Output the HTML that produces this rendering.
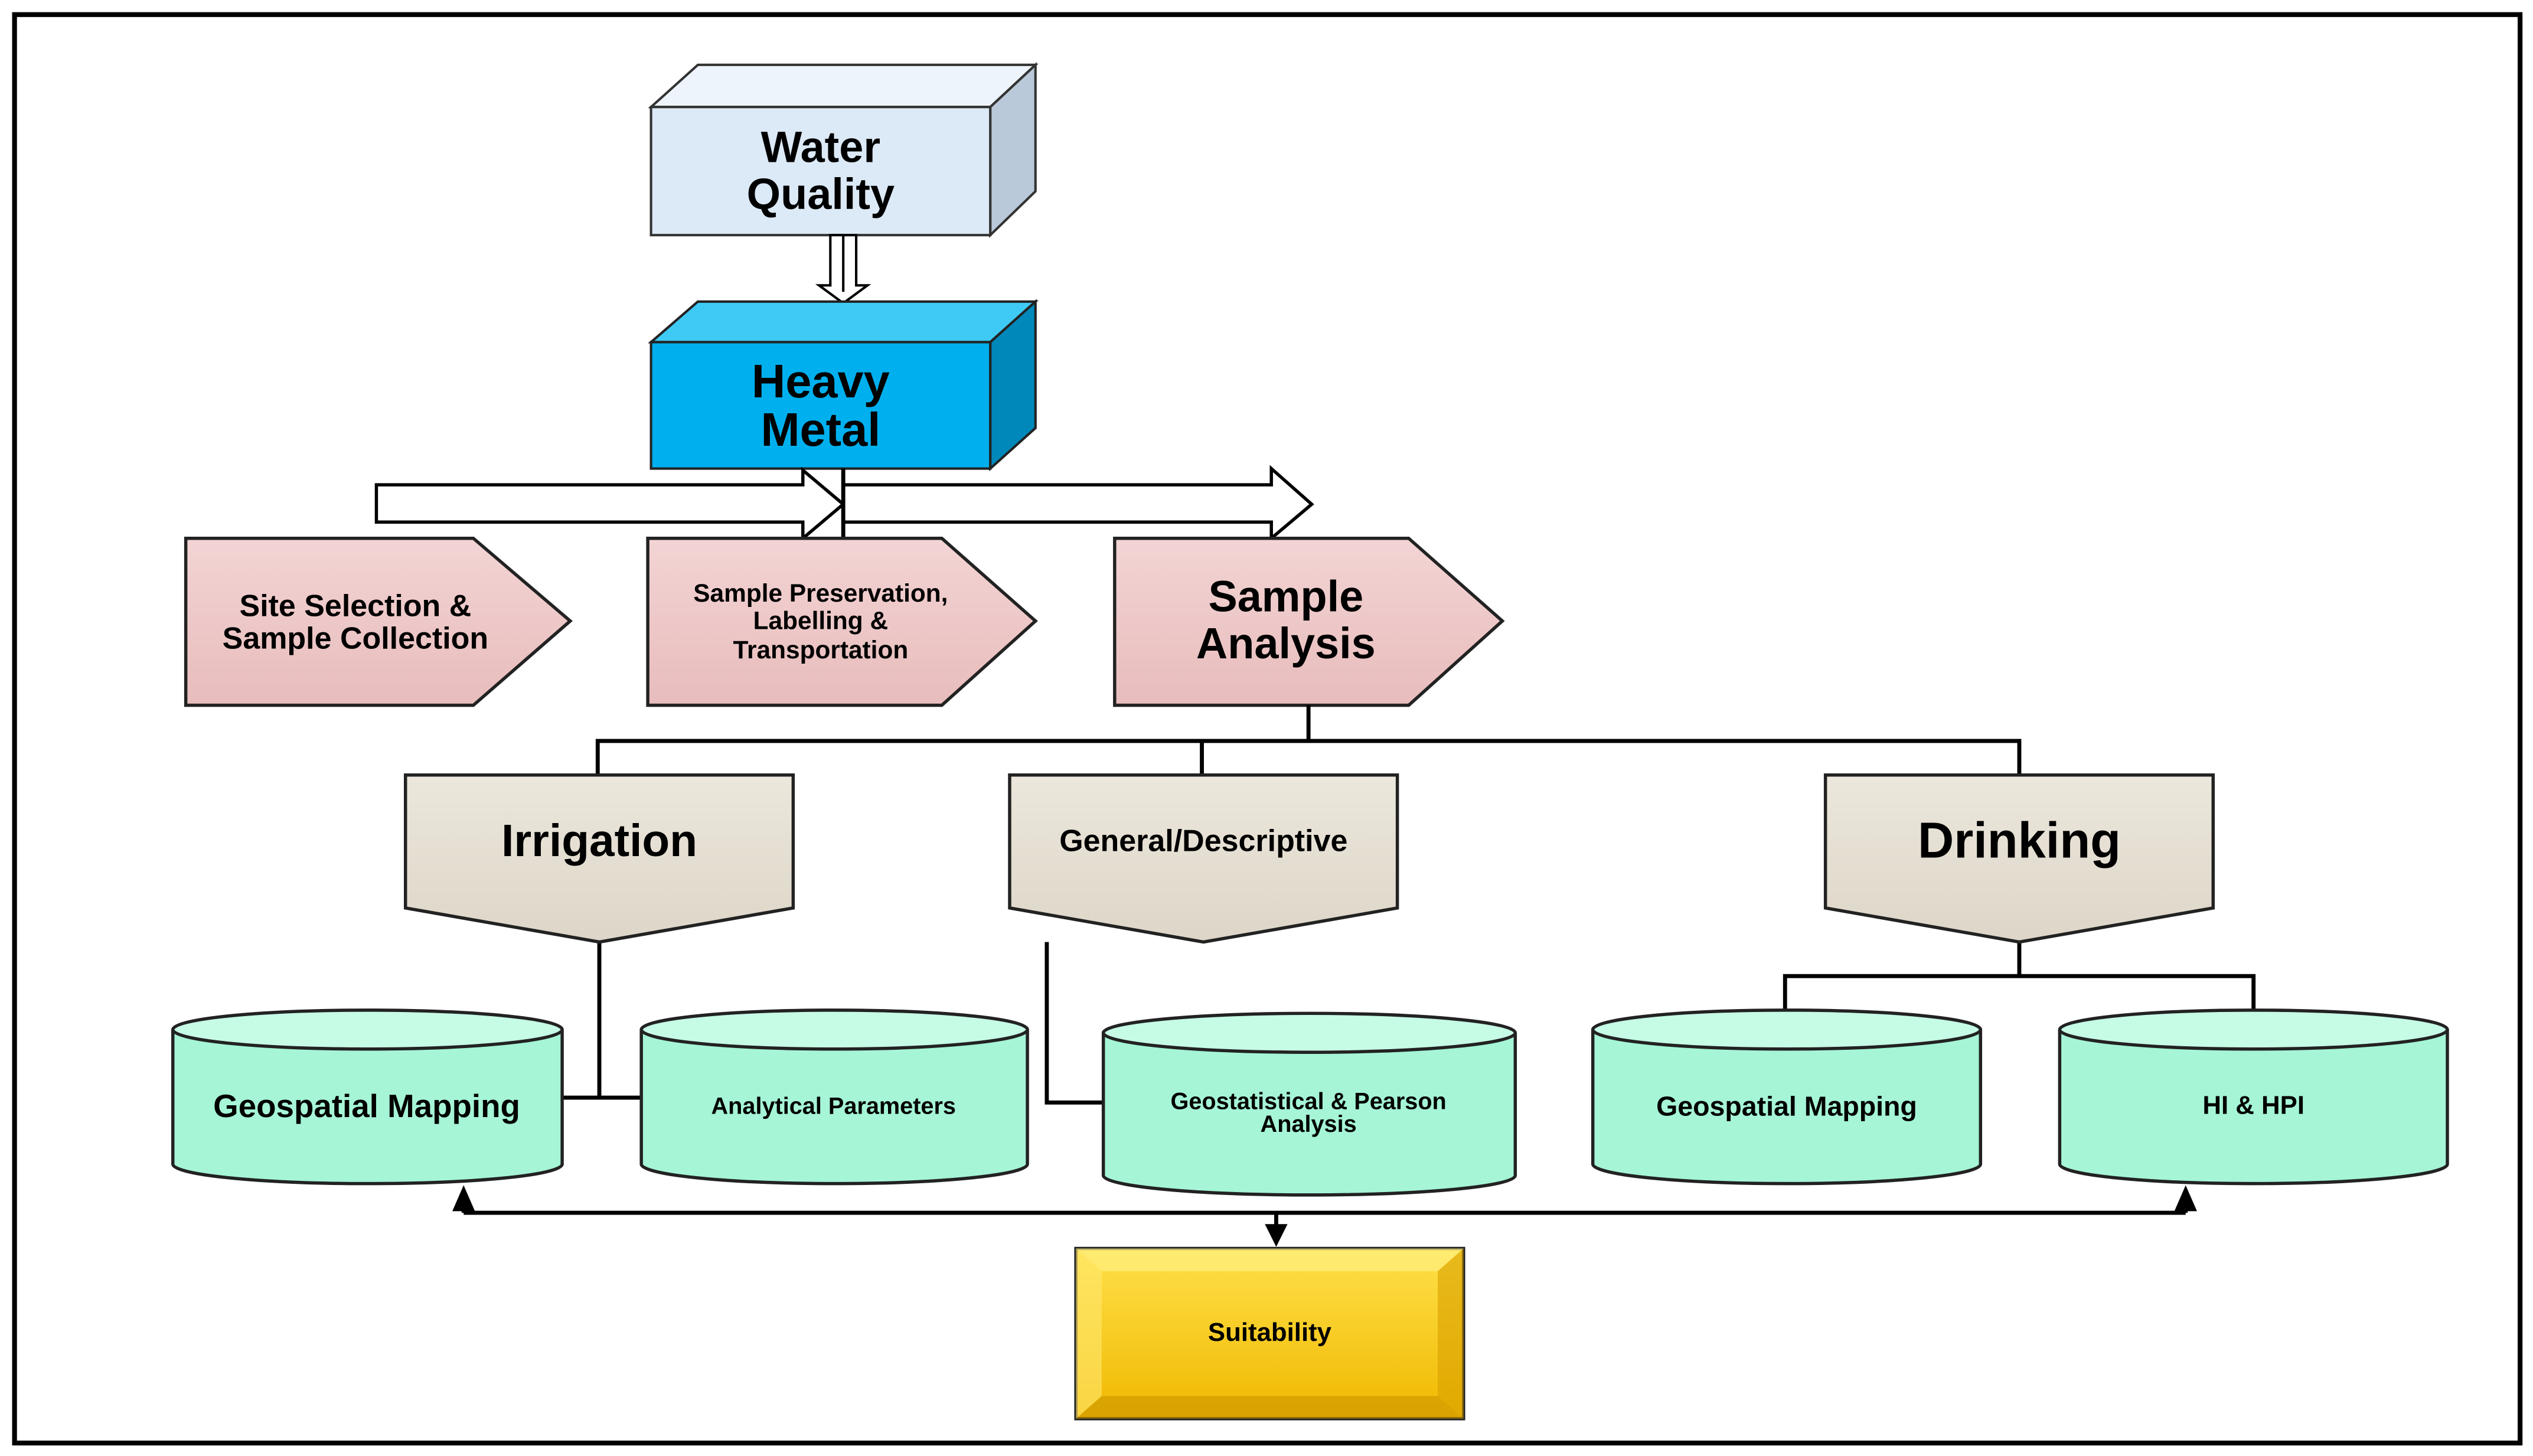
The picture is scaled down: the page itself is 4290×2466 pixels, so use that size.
<!DOCTYPE html>
<html><head><meta charset="utf-8"><style>
html,body{margin:0;padding:0;background:#fff}
svg{display:block}
text{font-family:"Liberation Sans",Arial,sans-serif;font-weight:bold;fill:#000;text-anchor:middle}
</style></head><body>
<svg width="4290" height="2466" viewBox="0 0 1568 898" preserveAspectRatio="none" xmlns="http://www.w3.org/2000/svg">
<defs>
<linearGradient id="pink" x1="0" y1="0" x2="0" y2="1"><stop offset="0" stop-color="#f3d4d4"/><stop offset="1" stop-color="#e8bcbc"/></linearGradient>
<linearGradient id="beige" x1="0" y1="0" x2="0" y2="1"><stop offset="0" stop-color="#ece7dc"/><stop offset="1" stop-color="#ddd6c8"/></linearGradient>
<linearGradient id="gold" x1="0" y1="0" x2="0" y2="1"><stop offset="0" stop-color="#ffe14a"/><stop offset="1" stop-color="#f0b800"/></linearGradient>
</defs>
<rect x="9" y="9" width="1551" height="881" fill="#fff" stroke="#000" stroke-width="3"/>

<!-- Water Quality -->
<polygon points="403,66 432,40 641,40 613,66" fill="#eef4fb" stroke="#333" stroke-width="1.5"/>
<polygon points="613,66 641,40 641,118 613,145" fill="#b9c9d9" stroke="#333" stroke-width="1.5"/>
<rect x="403" y="66" width="210" height="79" fill="#dce9f6" stroke="#333" stroke-width="1.5"/>
<text x="508" y="100" font-size="27">Water</text>
<text x="508" y="129" font-size="27">Quality</text>

<!-- double arrow -->
<polygon points="514,145 530,145 530,176 537,176 522,187 507,176 514,176" fill="#fff" stroke="#000" stroke-width="1.5"/>
<line x1="522" y1="145" x2="522" y2="180" stroke="#000" stroke-width="1.5"/>

<!-- Heavy Metal -->
<polygon points="403,211 432,186 641,186 613,211" fill="#3fcaf5" stroke="#222" stroke-width="1.5"/>
<polygon points="613,211 641,186 641,264 613,289" fill="#0088bb" stroke="#222" stroke-width="1.5"/>
<rect x="403" y="211" width="210" height="78" fill="#00b0ee" stroke="#222" stroke-width="1.5"/>
<text x="508" y="245" font-size="29">Heavy</text>
<text x="508" y="275" font-size="29">Metal</text>

<!-- hollow arrows -->
<polygon points="233,299 497,299 497,290 522,311 497,332 497,322 233,322" fill="#fff" stroke="#000" stroke-width="2"/>
<polygon points="522,299 787,299 787,289 812,311 787,332 787,322 522,322" fill="#fff" stroke="#000" stroke-width="2"/>
<line x1="522" y1="289" x2="522" y2="332" stroke="#000" stroke-width="2.5"/>

<!-- pink pentagons -->
<g stroke="#222" stroke-width="2">
<polygon points="115,332 293,332 353,383 293,435 115,435" fill="url(#pink)"/>
<polygon points="401,332 583,332 641,383 583,435 401,435" fill="url(#pink)"/>
<polygon points="690,332 872,332 930,383 872,435 690,435" fill="url(#pink)"/>
</g>
<text x="220" y="380" font-size="19">Site Selection &amp;</text>
<text x="220" y="400" font-size="19">Sample Collection</text>
<text x="508" y="371" font-size="15.5">Sample Preservation,</text>
<text x="508" y="388" font-size="15.5">Labelling &amp;</text>
<text x="508" y="406" font-size="15.5">Transportation</text>
<text x="796" y="377" font-size="27">Sample</text>
<text x="796" y="406" font-size="27">Analysis</text>

<!-- connectors -->
<g stroke="#000" stroke-width="2.5" fill="none">
<polyline points="810,435 810,457"/>
<polyline points="370,478 370,457 1250,457 1250,478"/>
<line x1="744" y1="457" x2="744" y2="478"/>
<polyline points="371,581 371,677"/>
<line x1="348" y1="677" x2="397" y2="677"/>
<polyline points="648,581 648,680 683,680"/>
<polyline points="1250,581 1250,602"/>
<polyline points="1105,625 1105,602 1395,602 1395,625"/>
<polyline points="287,748 1353,748"/>
<line x1="287" y1="748" x2="287" y2="740"/>
<line x1="1353" y1="748" x2="1353" y2="740"/>
<line x1="790" y1="748" x2="790" y2="758"/>
</g>
<polygon points="280,747 294,747 287,731" fill="#000"/>
<polygon points="1346,747 1360,747 1353,731" fill="#000"/>
<polygon points="783,755 797,755 790,769" fill="#000"/>

<!-- beige down pentagons -->
<g stroke="#222" stroke-width="2">
<polygon points="251,478 491,478 491,560 371,581 251,560" fill="url(#beige)"/>
<polygon points="625,478 865,478 865,560 745,581 625,560" fill="url(#beige)"/>
<polygon points="1130,478 1370,478 1370,560 1250,581 1130,560" fill="url(#beige)"/>
</g>
<text x="371" y="528" font-size="28">Irrigation</text>
<text x="745" y="525" font-size="19">General/Descriptive</text>
<text x="1250" y="529" font-size="31">Drinking</text>

<!-- cylinders -->
<g stroke="#222" stroke-width="2">
<path d="M107,635 L107,718 A120.5,12 0 0 0 348,718 L348,635" fill="#a5f5d6"/>
<ellipse cx="227.5" cy="635" rx="120.5" ry="12" fill="#c6fbe6"/>
<path d="M397,635 L397,718 A119.5,12 0 0 0 636,718 L636,635" fill="#a5f5d6"/>
<ellipse cx="516.5" cy="635" rx="119.5" ry="12" fill="#c6fbe6"/>
<path d="M683,637 L683,725 A127.5,12 0 0 0 938,725 L938,637" fill="#a5f5d6"/>
<ellipse cx="810.5" cy="637" rx="127.5" ry="12" fill="#c6fbe6"/>
<path d="M986,635 L986,718 A120,12 0 0 0 1226,718 L1226,635" fill="#a5f5d6"/>
<ellipse cx="1106" cy="635" rx="120" ry="12" fill="#c6fbe6"/>
<path d="M1275,635 L1275,718 A120,12 0 0 0 1515,718 L1515,635" fill="#a5f5d6"/>
<ellipse cx="1395" cy="635" rx="120" ry="12" fill="#c6fbe6"/>
</g>
<text x="227" y="689" font-size="20">Geospatial Mapping</text>
<text x="516" y="687" font-size="14.5">Analytical Parameters</text>
<text x="810" y="684" font-size="14.5">Geostatistical &amp; Pearson</text>
<text x="810" y="698" font-size="14.5">Analysis</text>
<text x="1106" y="688" font-size="17">Geospatial Mapping</text>
<text x="1395" y="687" font-size="16">HI &amp; HPI</text>

<!-- Suitability -->
<rect x="666" y="770" width="240" height="105" fill="url(#gold)" stroke="#222" stroke-width="2"/>
<polygon points="666,770 906,770 890,784 682,784" fill="#fff080" opacity="0.7"/>
<polygon points="666,875 906,875 890,861 682,861" fill="#c99400" opacity="0.6"/>
<polygon points="666,770 682,784 682,861 666,875" fill="#ffe870" opacity="0.6"/>
<polygon points="906,770 890,784 890,861 906,875" fill="#d9a000" opacity="0.6"/>
<text x="786" y="827" font-size="16">Suitability</text>
</svg>
</body></html>
